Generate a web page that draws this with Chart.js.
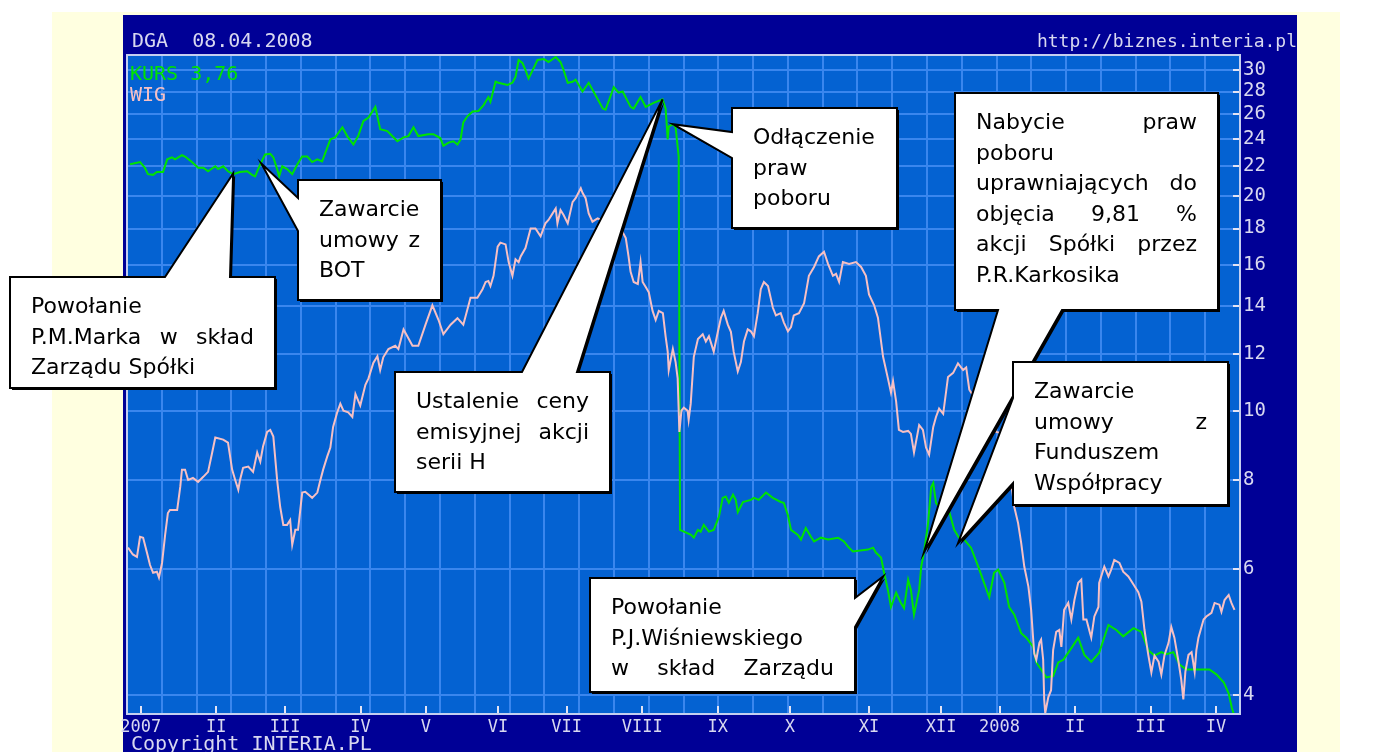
<!DOCTYPE html>
<html lang="pl">
<head>
<meta charset="utf-8">
<title>DGA 08.04.2008</title>
<script src="https://cdn.jsdelivr.net/npm/chart.js@4.4.1/dist/chart.umd.min.js"></script>
<style>
  html, body { margin: 0; padding: 0; background: #fff; overflow: hidden; }
  #chart { display: block; }
</style>
</head>
<body>
<canvas id="chart" width="1393" height="752"></canvas>
<script>
// sesje liczone od konca grudnia 2006, kurs w zl (skala log.)
const kursPoints = [
  [0.9,22.15],[3.8,22.30],[5.2,21.90],[6.1,21.45],[7.6,21.40],[8.7,21.60],[10.5,21.60],[11.7,22.50],[13.1,22.65],[14.0,22.50],
  [16.0,22.80],[16.9,22.70],[18.9,22.30],[20.7,21.90],[22.2,21.90],[23.6,21.65],[25.7,22.00],[26.5,21.80],[28.0,22.00],[29.4,21.65],
  [30.9,21.45],[32.9,21.60],[35.0,21.65],[36.4,21.40],[37.3,21.30],[38.8,22.15],[40.2,22.85],[41.7,22.90],[42.6,22.65],[43.7,21.80],
  [44.3,21.30],[45.2,22.00],[46.6,21.80],[48.1,21.45],[49.6,22.15],[51.0,22.70],[52.5,22.70],[53.9,22.30],[55.4,22.50],[56.8,22.35],
  [59.2,24.00],[60.6,24.15],[62.7,24.95],[64.1,24.25],[65.9,23.60],[67.3,24.25],[68.8,25.45],[70.3,25.75],[72.3,26.65],[73.7,24.80],
  [75.8,24.65],[78.7,23.85],[80.5,24.15],[81.9,24.25],[83.4,24.95],[84.8,24.25],[87.7,24.40],[89.2,24.40],[91.2,24.10],[92.1,23.50],
  [93.6,23.75],[95.0,23.85],[96.2,23.60],[97.1,24.00],[97.9,25.35],[99.1,25.85],[100.6,26.25],[102.3,26.30],[103.8,26.80],[105.2,27.50],
  [105.8,27.10],[107.3,28.90],[108.1,28.80],[110.8,28.60],[112.2,28.80],[113.1,29.35],[114.0,31.00],[115.1,30.70],[116.0,30.00],[116.9,29.20],
  [118.1,30.00],[119.5,31.00],[121.3,31.10],[122.7,30.80],[124.8,31.30],[126.2,30.80],[127.1,30.00],[128.3,28.80],[129.7,28.90],[130.6,29.10],
  [132.6,28.00],[134.4,28.80],[135.8,28.00],[138.5,26.50],[139.3,26.40],[141.7,28.40],[143.1,27.90],[144.3,28.00],[146.6,26.65],[147.5,26.50],
  [149.5,27.50],[151.0,26.65],[153.3,27.00],[155.9,27.30],[156.8,26.50],[157.4,24.00],[157.7,25.00],[158.9,25.20],[159.7,24.95],[160.6,22.70],
  [161.0,6.81],[164.2,6.70],[165.0,6.64],[166.2,6.81],[167.0,6.77],[167.9,6.92],[169.4,6.77],[170.8,6.81],[172.3,7.10],[173.4,7.55],
  [174.3,7.58],[175.2,7.43],[176.4,7.63],[177.2,7.50],[177.8,7.21],[179.3,7.45],[181.6,7.50],[182.5,7.55],[183.9,7.50],[186.0,7.68],
  [188.0,7.55],[190.3,7.45],[191.2,7.43],[192.4,7.14],[193.3,6.81],[195.3,6.70],[196.2,6.60],[197.6,6.85],[199.1,6.66],[200.0,6.56],
  [202.0,6.64],[204.1,6.60],[207.0,6.64],[208.7,6.56],[209.9,6.45],[211.3,6.35],[215.7,6.39],[217.2,6.43],[218.0,6.33],[219.5,6.23],
  [220.4,5.93],[221.5,5.61],[222.4,5.31],[223.9,5.56],[225.3,5.38],[226.2,5.29],[227.4,5.80],[228.2,5.61],[229.1,5.18],[230.6,5.61],
  [231.2,6.05],[232.0,6.33],[233.2,6.96],[234.1,7.82],[234.7,7.92],[235.5,7.43],[237.0,7.26],[239.0,7.33],[240.8,6.81],[242.2,6.64],
  [243.7,6.60],[245.7,6.43],[247.8,6.05],[249.5,5.74],[251.0,5.48],[252.4,5.93],[253.6,5.99],[255.4,5.74],[256.8,5.31],[258.3,5.18],
  [260.3,4.88],[261.8,4.81],[263.8,4.67],[264.7,4.44],[266.1,4.34],[267.6,4.23],[269.6,4.25],[271.1,4.44],[272.6,4.48],[274.9,4.65],
  [276.9,4.81],[278.7,4.55],[280.7,4.45],[283.0,4.58],[285.7,5.01],[288.0,4.93],[290.0,4.83],[293.0,4.96],[295.3,4.90],[297.3,4.62],
  [299.1,4.54],[301.1,4.59],[302.6,4.56],[304.6,4.59],[306.4,4.41],[308.4,4.34],[311.4,4.34],[315.1,4.34],[317.2,4.27],[319.3,4.16],
  [320.7,4.02],[321.6,3.84],[322.2,3.76]
];

// WIG przeskalowany do osi kursu
const wigPoints = [
  [0.3,6.43],[1.7,6.29],[2.9,6.24],[3.8,6.66],[4.7,6.64],[5.8,6.33],[6.7,6.08],[7.6,5.93],[8.7,5.95],[9.3,5.84],
  [10.2,6.12],[11.1,6.70],[11.9,7.19],[12.5,7.26],[14.6,7.26],[15.5,7.82],[16.0,8.27],[16.9,8.27],[17.8,8.00],[19.2,8.05],
  [20.7,7.95],[22.2,8.08],[23.6,8.21],[24.8,8.74],[25.7,9.17],[28.0,9.11],[29.4,9.02],[30.6,8.27],[31.5,8.00],[32.4,7.75],
  [32.9,8.00],[33.8,8.32],[35.3,8.35],[36.7,8.21],[37.9,8.74],[38.8,8.49],[39.6,8.91],[40.8,9.34],[41.7,9.40],[42.6,9.20],
  [43.7,8.00],[44.6,7.33],[45.5,6.92],[46.6,6.92],[47.5,7.03],[48.1,6.49],[49.0,6.81],[49.8,6.81],[51.0,7.68],[51.9,7.70],
  [53.9,7.55],[55.4,7.68],[56.3,8.00],[57.1,8.27],[58.3,8.63],[59.2,8.88],[60.0,9.49],[61.2,9.95],[62.1,10.23],[63.0,10.00],
  [64.4,9.95],[65.6,9.80],[66.5,10.55],[67.3,10.33],[67.9,10.17],[69.4,10.87],[70.3,11.10],[71.7,11.67],[72.9,11.92],[73.7,11.40],
  [74.6,11.88],[76.1,12.20],[78.1,12.33],[79.0,12.20],[80.5,13.00],[81.6,12.72],[83.1,12.33],[84.8,12.33],[86.9,13.20],[88.9,14.05],
  [90.7,13.40],[92.1,12.80],[94.2,13.20],[96.2,13.48],[97.9,13.20],[100.0,14.40],[102.0,14.40],[103.5,14.80],[104.4,15.15],[105.2,15.20],
  [105.8,14.95],[106.7,15.45],[107.9,16.98],[108.7,17.20],[110.2,17.10],[111.1,16.15],[112.2,15.45],[113.1,16.30],[114.0,16.15],[114.6,16.45],
  [116.0,16.90],[117.5,18.00],[118.9,18.00],[120.4,17.55],[121.8,18.30],[122.7,18.50],[123.9,18.90],[124.8,19.20],[125.3,18.30],[126.2,19.10],
  [127.1,18.80],[128.3,18.30],[129.7,19.60],[130.6,19.85],[132.1,20.50],[132.6,20.20],[133.5,19.85],[134.4,18.90],[135.5,18.40],[137.0,18.60],
  [143.7,18.00],[145.2,17.45],[146.0,16.45],[146.6,15.65],[147.5,15.15],[148.7,15.05],[149.5,16.15],[150.1,15.15],[151.0,14.90],[151.9,14.65],
  [153.0,13.80],[153.9,13.40],[154.8,13.80],[156.0,13.70],[156.8,12.70],[157.4,12.10],[157.7,11.40],[158.9,12.20],[159.7,11.70],[160.3,11.10],
  [160.8,9.34],[161.4,10.00],[162.1,10.10],[163.2,10.00],[163.5,9.71],[164.1,10.23],[165.0,11.90],[166.2,12.60],[167.6,12.80],[168.5,12.50],
  [169.4,12.72],[170.8,12.10],[172.0,12.90],[172.9,13.50],[173.7,13.80],[174.9,13.20],[175.8,12.90],[176.6,12.10],[177.8,11.35],[178.7,11.70],
  [179.6,12.50],[180.7,13.00],[181.6,12.92],[182.5,12.72],[183.6,13.70],[184.5,14.80],[185.4,15.15],[186.6,14.95],[188.0,13.95],[188.9,13.60],
  [190.3,13.70],[191.2,13.30],[192.4,12.92],[193.3,13.10],[194.1,13.60],[195.6,13.70],[197.1,14.15],[198.5,15.45],[200.0,15.90],[201.4,16.45],
  [202.9,16.70],[204.1,16.05],[205.5,15.45],[206.4,15.55],[207.3,15.15],[208.4,16.15],[210.2,16.05],[212.2,16.15],[213.7,15.90],[215.1,15.45],
  [216.0,14.55],[217.5,14.05],[218.6,13.50],[220.1,11.90],[221.5,11.10],[222.4,10.60],[223.0,11.00],[223.9,10.30],[224.7,9.40],[225.9,9.34],
  [227.4,9.37],[228.2,9.28],[229.1,8.74],[230.6,9.55],[231.7,9.40],[232.6,8.88],[233.5,8.68],[234.7,9.49],[235.5,9.80],[236.4,10.07],
  [237.6,9.90],[239.0,11.15],[240.5,11.30],[241.9,11.65],[243.4,11.40],[244.3,11.50],[245.2,10.70],[253.0,9.34],[255.4,9.28],[256.5,8.54],
  [257.4,7.92],[258.3,7.33],[259.4,6.96],[260.3,6.53],[261.2,6.05],[262.4,5.67],[263.2,5.26],[263.8,4.78],[264.1,4.57],[264.7,4.48],
  [265.6,4.73],[266.1,4.78],[266.7,4.48],[267.0,3.94],[267.3,3.77],[268.2,3.97],[269.0,4.06],[269.6,4.62],[270.5,4.90],[271.4,4.93],
  [272.0,4.67],[272.8,5.26],[274.0,5.38],[274.9,5.10],[275.8,5.43],[276.9,5.74],[277.8,5.80],[278.4,5.10],[279.3,5.10],[280.1,4.93],
  [280.7,4.81],[281.6,5.15],[282.8,5.31],[283.0,5.74],[284.5,6.05],[285.7,5.86],[286.5,5.99],[287.4,6.18],[288.9,6.12],[290.0,5.95],
  [291.5,5.86],[293.0,5.71],[294.4,5.57],[295.3,5.40],[296.2,4.93],[297.3,4.55],[298.2,4.30],[299.1,4.54],[300.3,4.45],[301.1,4.27],
  [302.0,4.54],[303.2,4.73],[304.0,4.98],[304.9,4.81],[306.1,4.45],[306.9,4.20],[307.5,3.94],[308.1,4.31],[309.0,4.55],[309.9,4.59],
  [310.8,4.31],[311.3,4.62],[311.9,4.81],[313.4,5.10],[314.2,5.15],[315.7,5.21],[316.6,5.38],[318.0,5.35],[318.6,5.23],[319.5,5.43],
  [320.7,5.52],[321.5,5.38],[322.4,5.26]
];

const monthDays = [4, 26, 46, 68, 87, 108, 128, 150, 172, 193, 216, 237, 254, 276, 298, 317];
const monthLabels = ['2007', 'II', 'III', 'IV', 'V', 'VI', 'VII', 'VIII', 'IX', 'X', 'XI', 'XII', '2008', 'II', 'III', 'IV'];
const priceTicks = [4, 6, 8, 10, 12, 14, 16, 18, 20, 22, 24, 26, 28, 30];
const sessionCount = 324;
const priceMin = 3.76;
const priceMax = 31.5;
const lastKurs = '3,76';

// dymki z komentarzami; tip = [sesja, kurs]
const notes = [
  { lines: ['Powołanie', 'P.M.Marka w skład', 'Zarządu Spółki'], justify: [1],
    tip: [30.9, 21.5], box: { x: 10, y: 277, w: 265, h: 111 }, side: 'top', base: [165, 230] },
  { lines: ['Zawarcie', 'umowy z', 'BOT'], justify: [1],
    tip: [39.1, 22.2], box: { x: 298, y: 180, w: 143, h: 120 }, side: 'left', base: [198, 231] },
  { lines: ['Ustalenie ceny', 'emisyjnej akcji', 'serii H'], justify: [0, 1],
    tip: [155.9, 27.3], box: { x: 395, y: 372, w: 215, h: 120 }, side: 'top', base: [522, 577] },
  { lines: ['Odłączenie', 'praw', 'poboru'], justify: [],
    tip: [158.9, 25.2], box: { x: 732, y: 108, w: 165, h: 120 }, side: 'left', base: [132, 158] },
  { lines: ['Nabycie praw', 'poboru', 'uprawniających do', 'objęcia 9,81 %', 'akcji Spółki przez', 'P.R.Karkosika'], justify: [0, 2, 3, 4],
    tip: [232.0, 6.33], box: { x: 955, y: 93, w: 263, h: 217 }, side: 'bottom', base: [998, 1062] },
  { lines: ['Zawarcie', 'umowy z', 'Funduszem', 'Współpracy'], justify: [1],
    tip: [241.9, 6.52], box: { x: 1013, y: 362, w: 215, h: 143 }, side: 'left', base: [398, 483] },
  { lines: ['Powołanie', 'P.J.Wiśniewskiego', 'w skład Zarządu'], justify: [2],
    tip: [220.1, 5.86], box: { x: 590, y: 578, w: 265, h: 114 }, side: 'right', base: [598, 627] }
];

document.addEventListener('DOMContentLoaded', () => {
  const canvas = document.getElementById('chart');
  if (!canvas || typeof Chart === 'undefined') {
    console.error('Error: Missing canvas or Chart.js library.');
    return;
  }

  const MONO = '"DejaVu Sans Mono", monospace';
  const TEXT = '#d8d8f0';
  const GRID = '#3a86ee';

  function drawLine(ctx, text, x, y, width, justify) {
    const words = text.split(' ');
    if (!justify || words.length < 2) {
      ctx.fillText(text, x, y);
      return;
    }
    const used = words.reduce((s, w) => s + ctx.measureText(w).width, 0);
    const gap = (width - used) / (words.length - 1);
    let cx = x;
    words.forEach(w => {
      ctx.fillText(w, cx, y);
      cx += ctx.measureText(w).width + gap;
    });
  }

  function drawNote(ctx, n, tx, ty) {
    const { x, y, w, h } = n.box;
    ctx.beginPath();
    ctx.moveTo(x, y);
    if (n.side === 'top') { ctx.lineTo(n.base[0], y); ctx.lineTo(tx, ty); ctx.lineTo(n.base[1], y); }
    ctx.lineTo(x + w, y);
    if (n.side === 'right') { ctx.lineTo(x + w, n.base[0]); ctx.lineTo(tx, ty); ctx.lineTo(x + w, n.base[1]); }
    ctx.lineTo(x + w, y + h);
    if (n.side === 'bottom') { ctx.lineTo(n.base[1], y + h); ctx.lineTo(tx, ty); ctx.lineTo(n.base[0], y + h); }
    ctx.lineTo(x, y + h);
    if (n.side === 'left') { ctx.lineTo(x, n.base[1]); ctx.lineTo(tx, ty); ctx.lineTo(x, n.base[0]); }
    ctx.closePath();

    ctx.save();
    ctx.shadowColor = '#000';
    ctx.shadowOffsetX = 2;
    ctx.shadowOffsetY = 2;
    ctx.fillStyle = '#fff';
    ctx.fill();
    ctx.restore();
    ctx.lineWidth = 2;
    ctx.lineJoin = 'miter';
    ctx.strokeStyle = '#000';
    ctx.stroke();

    ctx.fillStyle = '#000';
    ctx.font = '22px "DejaVu Sans"';
    ctx.textAlign = 'left';
    ctx.textBaseline = 'alphabetic';
    const pad = 21;
    n.lines.forEach((line, i) => {
      drawLine(ctx, line, x + pad, y + 36 + i * 30.5, w - 2 * pad, n.justify.includes(i));
    });
  }

  const frame = {
    id: 'frame',
    beforeDraw(chart) {
      const { ctx, chartArea: a } = chart;
      ctx.save();
      ctx.fillStyle = '#ffffff';
      ctx.fillRect(0, 0, chart.width, chart.height);
      ctx.fillStyle = '#ffffe0';
      ctx.fillRect(52, 12, 1288, 740);
      ctx.fillStyle = '#000096';
      ctx.fillRect(123, 15, 1174, 737);
      ctx.fillStyle = '#0462d2';
      ctx.fillRect(a.left, a.top, a.right - a.left, a.bottom - a.top);
      ctx.restore();
    },
    afterDatasetsDraw(chart) {
      const { ctx, chartArea: a, scales } = chart;
      ctx.save();
      // krotkie kreski osi
      ctx.strokeStyle = '#e4e4f4';
      ctx.lineWidth = 2;
      ctx.beginPath();
      priceTicks.forEach(v => {
        const py = Math.round(scales.y.getPixelForValue(v));
        ctx.moveTo(a.right - 7, py);
        ctx.lineTo(a.right, py);
      });
      monthDays.forEach(d => {
        const px = Math.round(scales.x.getPixelForValue(d));
        ctx.moveTo(px, a.bottom - 8);
        ctx.lineTo(px, a.bottom);
      });
      ctx.stroke();

      ctx.strokeStyle = '#c4cff0';
      ctx.lineWidth = 2;
      ctx.strokeRect(a.left, a.top, a.right - a.left, a.bottom - a.top);

      // legenda
      ctx.font = '20px ' + MONO;
      ctx.textBaseline = 'alphabetic';
      ctx.fillStyle = '#00e400';
      ctx.fillText('KURS ' + lastKurs, a.left + 3, 80);
      ctx.fillStyle = '#f6c0c4';
      ctx.fillText('WIG', a.left + 3, 101);
      ctx.restore();
    },
    afterDraw(chart) {
      const { ctx, scales } = chart;
      ctx.save();
      ctx.fillStyle = TEXT;
      ctx.font = '20px ' + MONO;
      ctx.textBaseline = 'alphabetic';
      ctx.textAlign = 'left';
      ctx.fillText('DGA  08.04.2008', 132, 47);
      ctx.fillText('Copyright INTERIA.PL', 131, 750);
      ctx.font = '18px ' + MONO;
      ctx.textAlign = 'right';
      ctx.fillText('http://biznes.interia.pl', 1297, 47);

      notes.forEach(n => {
        const tx = scales.x.getPixelForValue(n.tip[0]);
        const ty = scales.y.getPixelForValue(n.tip[1]);
        drawNote(ctx, n, tx, ty);
      });
      ctx.restore();
    }
  };

  const gridDays = Array.from({ length: 33 }, (_, i) => i * sessionCount / 32);

  new Chart(canvas, {
    type: 'line',
    data: {
      datasets: [
        {
          label: 'WIG',
          data: wigPoints.map(([x, y]) => ({ x, y })),
          borderColor: '#f6c0c4',
          borderWidth: 2,
          pointRadius: 0,
          tension: 0,
          xAxisID: 'x',
          yAxisID: 'y'
        },
        {
          label: 'KURS',
          data: kursPoints.map(([x, y]) => ({ x, y })),
          borderColor: '#00e400',
          borderWidth: 2,
          pointRadius: 0,
          tension: 0,
          xAxisID: 'x',
          yAxisID: 'y'
        }
      ]
    },
    options: {
      responsive: false,
      animation: false,
      events: [],
      layout: { padding: { left: 127, top: 55, right: 103, bottom: 18 } },
      plugins: { legend: { display: false }, tooltip: { enabled: false } },
      scales: {
        x: {
          type: 'linear',
          position: 'bottom',
          min: 0,
          max: sessionCount,
          afterBuildTicks: s => { s.ticks = monthDays.map(v => ({ value: v })); },
          afterFit: s => { s.height = 20; },
          ticks: {
            callback: (v, i) => monthLabels[i],
            autoSkip: false,
            maxRotation: 0,
            minRotation: 0,
            padding: 3,
            color: TEXT,
            font: { family: MONO, size: 17 }
          },
          grid: { display: false, drawTicks: false },
          border: { display: false }
        },
        xg: {
          type: 'linear',
          position: 'bottom',
          min: 0,
          max: sessionCount,
          afterBuildTicks: s => { s.ticks = gridDays.map(v => ({ value: v })); },
          afterFit: s => { s.height = 0; },
          ticks: { display: false },
          grid: { color: GRID, lineWidth: 2, drawTicks: false },
          border: { display: false }
        },
        y: {
          type: 'logarithmic',
          position: 'right',
          min: priceMin,
          max: priceMax,
          afterBuildTicks: s => { s.ticks = priceTicks.map(v => ({ value: v })); },
          afterFit: s => { s.width = 50; },
          ticks: {
            callback: v => String(v),
            padding: 3,
            color: TEXT,
            font: { family: MONO, size: 19 }
          },
          grid: { color: GRID, lineWidth: 2, drawTicks: false },
          border: { display: false }
        }
      }
    },
    plugins: [frame]
  });
});
</script>
</body>
</html>
